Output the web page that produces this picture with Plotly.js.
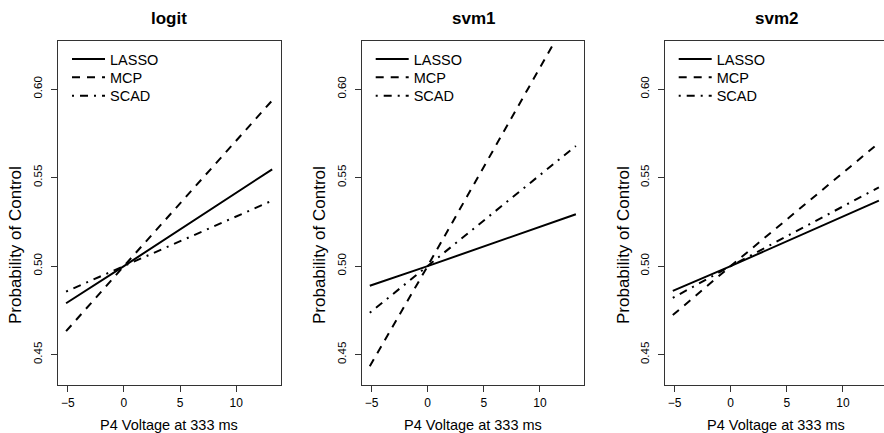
<!DOCTYPE html>
<html>
<head>
<meta charset="utf-8">
<script src="https://cdn.plot.ly/plotly-3.0.1.min.js"></script>
<style>
html,body{margin:0;padding:0;overflow:hidden;background:#fff;}
#chart{width:890px;height:433px;}
</style>
</head>
<body>
<div id="chart"></div>
<script>
// ---- data ----
var panelTitles = ["logit", "svm1", "svm2"];
var methods = ["LASSO", "MCP", "SCAD"];
var xVals = [-5.15, 0, 13.2];
// logit
var logitLASSO = [0.479, 0.500, 0.5547];
var logitMCP   = [0.4632, 0.500, 0.5936];
var logitSCAD  = [0.4856, 0.500, 0.537];
// svm1
var svm1LASSO = [0.4889, 0.500, 0.5293];
var svm1MCP   = [0.4434, 0.500, 0.648];
var svm1SCAD  = [0.4736, 0.500, 0.5679];
// svm2
var svm2LASSO = [0.486, 0.500, 0.537];
var svm2MCP   = [0.4723, 0.500, 0.5696];
var svm2SCAD  = [0.482, 0.500, 0.5445];

var xTickVals = [-5, 0, 5, 10];
var xTickText = ["\u22125", "0", "5", "10"];
var yTickVals = [0.45, 0.50, 0.55, 0.60];
var yTickText = ["0.45", "0.50", "0.55", "0.60"];
var xTitle = "P4 Voltage at 333 ms";
var yTitle = "Probability of Control";

// ---- drawing ----
var W = 890, H = 433;
var FONT = "Liberation Sans, Arial, Helvetica, sans-serif";
var boxLeft = [58, 361.7, 664.7];
var boxW = 222.6;
var boxTop = 41, boxBottom = 385;
var yTitleX = [15, 319, 623];
var legendRowY = [59, 77.3, 95.7];

var seriesByPanel = [
  [logitLASSO, logitMCP, logitSCAD],
  [svm1LASSO, svm1MCP, svm1SCAD],
  [svm2LASSO, svm2MCP, svm2SCAD]
];
var dashes = ["solid", "8px,7px", "2px,6px,8px,6px"];

var data = [];
var layout = {
  width: W, height: H,
  margin: {l: 0, r: 0, t: 0, b: 0},
  paper_bgcolor: "#fff", plot_bgcolor: "#fff",
  font: {family: FONT, color: "#000"},
  showlegend: true,
  annotations: []
};

var legIdx = 0;
for (var p = 0; p < 3; p++) {
  var sfx = p === 0 ? "" : String(p + 1);
  for (var m = 0; m < 3; m++) {
    legIdx++;
    var legName = legIdx === 1 ? "legend" : "legend" + legIdx;
    data.push({
      type: "scatter", mode: "lines",
      x: xVals, y: seriesByPanel[p][m],
      xaxis: "x" + sfx, yaxis: "y" + sfx,
      name: methods[m], legend: legName,
      line: {color: "#000", width: 2, dash: dashes[m]},
      hoverinfo: "skip"
    });
    layout[legName] = {
      x: (boxLeft[p] + 9) / W, y: 1 - (legendRowY[m] - 16) / H,
      xref: "paper", yref: "paper",
      xanchor: "left", yanchor: "top",
      bgcolor: "rgba(0,0,0,0)", borderwidth: 0,
      font: {size: 14.5, family: FONT, color: "#000"},
      itemwidth: 33
    };
  }
  layout["xaxis" + sfx] = {
    domain: [boxLeft[p] / W, (boxLeft[p] + boxW) / W],
    anchor: "y" + sfx,
    range: [-5.87, 13.95],
    tickmode: "array", tickvals: xTickVals, ticktext: xTickText,
    ticks: "outside", ticklen: 6, tickwidth: 1, tickcolor: "#333",
    ticklabelstandoff: 1,
    showline: true, mirror: true, linecolor: "#333", linewidth: 1,
    showgrid: false, zeroline: false,
    tickfont: {size: 12, family: FONT, color: "#000"},
    fixedrange: true
  };
  layout["yaxis" + sfx] = {
    domain: [(H - boxBottom) / H, (H - boxTop) / H],
    anchor: "x" + sfx,
    range: [0.4328, 0.6272],
    tickmode: "array", tickvals: yTickVals, ticktext: yTickText,
    tickangle: -90,
    ticks: "outside", ticklen: 6, tickwidth: 1, tickcolor: "#333",
    ticklabelstandoff: 4,
    showline: true, mirror: true, linecolor: "#333", linewidth: 1,
    showgrid: false, zeroline: false,
    tickfont: {size: 11.5, family: FONT, color: "#000"},
    fixedrange: true
  };
  var cx = (boxLeft[p] + boxW / 2) / W;
  layout.annotations.push({
    text: "<b>" + panelTitles[p] + "</b>", xref: "paper", yref: "paper",
    x: cx, y: 1 - 18.5 / H, xanchor: "center", yanchor: "middle",
    showarrow: false, font: {size: 17, family: FONT, color: "#000"}
  });
  layout.annotations.push({
    text: xTitle, xref: "paper", yref: "paper",
    x: cx, y: 1 - 425 / H, xanchor: "center", yanchor: "middle",
    showarrow: false, font: {size: 14.5, family: FONT, color: "#000"}
  });
  layout.annotations.push({
    text: yTitle, xref: "paper", yref: "paper",
    x: yTitleX[p] / W, y: 1 - 245 / H, xanchor: "center", yanchor: "middle",
    textangle: -90,
    showarrow: false, font: {size: 17, family: FONT, color: "#000"}
  });
}

Plotly.newPlot("chart", data, layout, {displayModeBar: false, staticPlot: true});
</script>
</body>
</html>
